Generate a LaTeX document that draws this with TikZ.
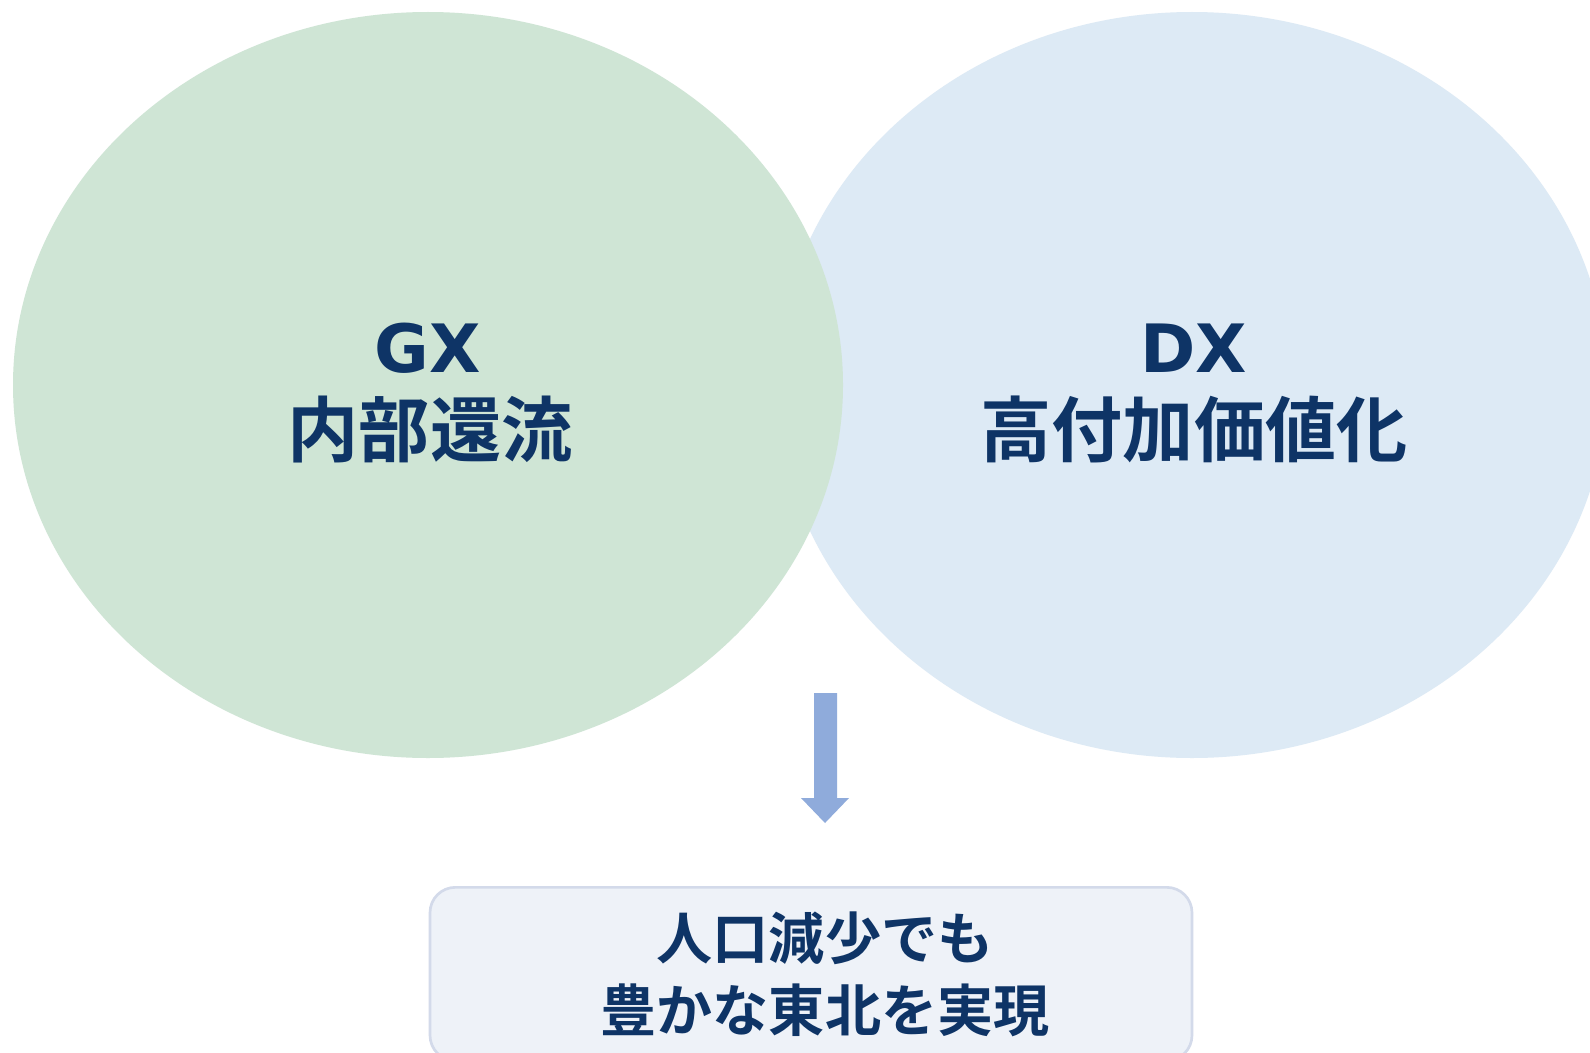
\documentclass[tikz,border=0pt]{standalone}
\usepackage{fontspec}
\usetikzlibrary{shapes.geometric}
\newfontfamily\cjk{Noto Sans CJK JP}[BoldFont={Noto Sans CJK JP Bold}]
\newfontfamily\latf{DejaVu Sans}
\definecolor{gxfill}{HTML}{CFE5D5}
\definecolor{dxfill}{HTML}{DDEAF5}
\definecolor{navy}{HTML}{0E3466}
\definecolor{arrowc}{HTML}{8FABDB}
\definecolor{boxfill}{HTML}{EEF2F8}
\definecolor{boxline}{HTML}{D3DAEA}
\tikzset{
  circ/.style={ellipse, inner sep=0pt, minimum width=622.5pt, minimum height=559.5pt},
  latlabel/.style={anchor=base, text=navy, inner sep=0pt, font=\latf\bfseries\fontsize{50}{60}\selectfont},
  biglabel/.style={anchor=base, text=navy, inner sep=0pt, font=\cjk\bfseries\fontsize{53.4}{64}\selectfont},
  boxlabel/.style={anchor=base, text=navy, inner sep=0pt, font=\cjk\bfseries\fontsize{42.1}{50}\selectfont},
  resultbox/.style={draw=boxline, line width=2pt, fill=boxfill, rounded corners=19pt, inner sep=0pt, minimum width=571.5pt, minimum height=130pt}
}
\begin{document}
\begin{tikzpicture}[x=0.75pt,y=-0.75pt]
\useasboundingbox (0,0) rectangle (1590,1052);
\clip (0,0) rectangle (1590,1052);
\fill[white] (0,0) rectangle (1590,1052);
\node[circ, fill=dxfill] (dx) at (1192,385) {};
\node[circ, fill=gxfill] (gx) at (428,385) {};
\node[latlabel] (gxt) at (428,372) {GX};
\node[biglabel] (gxj) at (430,456) {内部還流};
\node[latlabel] (dxt) at (1194,372) {DX};
\node[biglabel] (dxj) at (1194,456) {高付加価値化};
\fill[arrowc] (814,693) -- (837,693) -- (837,798) -- (849,798) -- (825,823) -- (801,798) -- (814,798) -- cycle;
\node[resultbox] (res) at (811,974) {};
\node[boxlabel] (r1) at (825,959) {人口減少でも};
\node[boxlabel] (r2) at (825,1031) {豊かな東北を実現};
\end{tikzpicture}
\end{document}
